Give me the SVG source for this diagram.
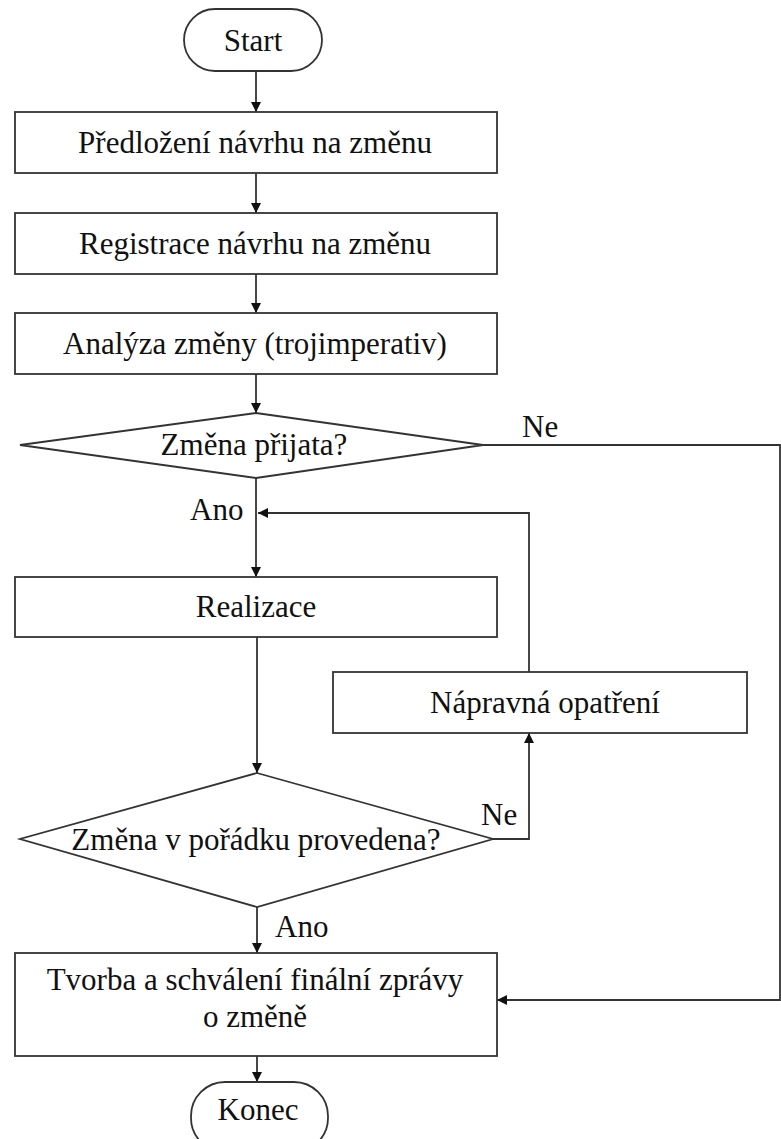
<svg xmlns="http://www.w3.org/2000/svg" width="781" height="1139" viewBox="0 0 781 1139">
<style>
.n{fill:#fff;stroke:#333;stroke-width:1.8}
.t{font-family:"Liberation Serif","Times New Roman",serif;font-size:31px;fill:#111;text-anchor:middle}
.l{font-family:"Liberation Serif","Times New Roman",serif;font-size:31px;fill:#111}
.c{fill:none;stroke:#333;stroke-width:1.8}
</style>
<defs>
<marker id="a" viewBox="0 0 10 10" refX="10" refY="5" markerWidth="10" markerHeight="10" markerUnits="userSpaceOnUse" orient="auto">
<path d="M0,0 L10,5 L0,10 Z" fill="#111"/>
</marker>
</defs>
<rect width="781" height="1139" fill="#fff"/>
<g id="connectors">
<line class="c" x1="256" y1="71" x2="256" y2="112" marker-end="url(#a)"/>
<line class="c" x1="256" y1="173" x2="256" y2="213" marker-end="url(#a)"/>
<line class="c" x1="256" y1="274" x2="256" y2="313" marker-end="url(#a)"/>
<line class="c" x1="256" y1="374" x2="256" y2="413" marker-end="url(#a)"/>
<line class="c" x1="256" y1="478" x2="256" y2="577" marker-end="url(#a)"/>
<polyline class="c" points="529,672 529,513 258,513" marker-end="url(#a)"/>
<line class="c" x1="257" y1="637" x2="257" y2="773" marker-end="url(#a)"/>
<polyline class="c" points="493,839 529,839 529,733" marker-end="url(#a)"/>
<line class="c" x1="257" y1="907" x2="257" y2="953" marker-end="url(#a)"/>
<polyline class="c" points="483,445 780,445 780,1000 497,1000" marker-end="url(#a)"/>
<line class="c" x1="257" y1="1056" x2="257" y2="1082" marker-end="url(#a)"/>
<text class="l" x="522" y="437">Ne</text>
<text class="l" x="190" y="520">Ano</text>
<text class="l" x="481" y="825">Ne</text>
<text class="l" x="275" y="937">Ano</text>
</g>
<g id="start">
<rect class="n" x="184" y="9" width="138" height="62" rx="31"/>
<text class="t" x="253" y="51">Start</text>
</g>
<g id="predlozeni">
<rect class="n" x="15" y="112" width="482" height="61"/>
<text class="t" x="255" y="153">Předložení návrhu na změnu</text>
</g>
<g id="registrace">
<rect class="n" x="15" y="213" width="482" height="61"/>
<text class="t" x="255" y="254">Registrace návrhu na změnu</text>
</g>
<g id="analyza">
<rect class="n" x="15" y="313" width="482" height="61"/>
<text class="t" x="255" y="354">Analýza změny (trojimperativ)</text>
</g>
<g id="zmena-prijata">
<polygon class="n" points="256,413 483,445 256,478 20,445"/>
<text class="t" x="254" y="455">Změna přijata?</text>
</g>
<g id="realizace">
<rect class="n" x="15" y="577" width="482" height="60"/>
<text class="t" x="256" y="617">Realizace</text>
</g>
<g id="napravna">
<rect class="n" x="333" y="672" width="414" height="61"/>
<text class="t" x="545" y="713">Nápravná opatření</text>
</g>
<g id="zmena-provedena">
<polygon class="n" points="257,773 493,839 257,907 20,839"/>
<text class="t" x="256" y="850">Změna v pořádku provedena?</text>
</g>
<g id="tvorba">
<rect class="n" x="15" y="953" width="482" height="103"/>
<text class="t" x="255" y="990">Tvorba a schválení finální zprávy</text>
<text class="t" x="255" y="1027">o změně</text>
</g>
<g id="konec">
<rect class="n" x="191" y="1082" width="137" height="70" rx="34"/>
<text class="t" x="258" y="1120">Konec</text>
</g>
</svg>
